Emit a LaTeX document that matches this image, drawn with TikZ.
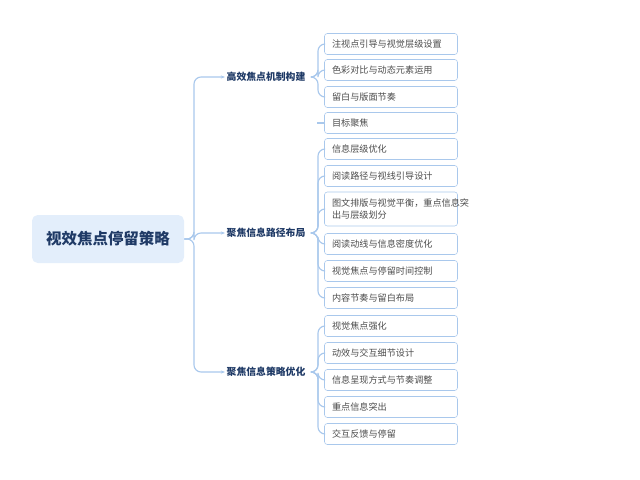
\documentclass[tikz,border=0pt]{standalone}
\usepackage{fontspec}
\newfontfamily\cjk{Noto Sans CJK SC}
\usetikzlibrary{arrows.meta}
\definecolor{linkblue}{HTML}{A9C8EC}
\definecolor{rootfill}{HTML}{E3EEFB}
\definecolor{navy}{HTML}{1F3A66}
\tikzset{
  root/.style={fill=rootfill, rounded corners=4pt, minimum width=152*0.025cm,
    minimum height=48*0.025cm, font=\cjk\bfseries\fontsize{11}{13}\selectfont, text=navy},
  branch/.style={anchor=west, font=\cjk\bfseries\fontsize{7}{9}\selectfont, text=navy, inner sep=1pt},
  leaf/.style={draw=linkblue, rounded corners=2pt, minimum width=133*0.025cm, minimum height=21*0.025cm,
    text width=118*0.025cm, align=left, font=\cjk\fontsize{6.5}{8.5}\selectfont, text=black!70, inner sep=2pt},
  link/.style={draw=linkblue, thick, rounded corners=5pt},
}
\begin{document}
\begin{tikzpicture}[x=0.025cm, y=-0.025cm]
    \useasboundingbox (0,0) rectangle (640,480);
    % root
    \node[root] (root) at (108,239) {视效焦点停留策略};

    % branches
    \node[branch] (b1) at (225,77) {高效焦点机制构建};
    \node[branch] (b2) at (225,233) {聚焦信息路径布局};
    \node[branch] (b3) at (225,372) {聚焦信息策略优化};
    \foreach \b in {b1,b2,b3}
        \draw[link, -{Stealth[length=3pt]}] (root.east) -- (194,239) |- (\b.west);

    % leaves
    \foreach \n/\y/\t in {l1/44/注视点引导与视觉层级设置, l2/70/色彩对比与动态元素运用, l3/97/留白与版面节奏,
        l4/123/目标聚焦, l5/149/信息层级优化, l6/176/阅读路径与视线引导设计,
        l8/244/阅读动线与信息密度优化, l9/271/视觉焦点与停留时间控制, l10/298/内容节奏与留白布局,
        l11/326/视觉焦点强化, l12/353/动效与交互细节设计, l13/380/信息呈现方式与节奏调整,
        l14/407/重点信息突出, l15/434/交互反馈与停留}
        \node[leaf] (\n) at (391,\y) {\t};
    \node[leaf, minimum height=34*0.025cm] (l7) at (391,209) {图文排版与视觉平衡，重点信息突\\出与层级划分};

    % brackets
    \foreach \l in {l1,l2,l3}
        \draw[link] (b1.east) ++(6,0) -- (318,77) |- (\l.west);
    \foreach \l in {l5,l6,l7,l8,l9,l10}
        \draw[link] (b2.east) ++(6,0) -- (318,233) |- (\l.west);
    \foreach \l in {l11,l12,l13,l14,l15}
        \draw[link] (b3.east) ++(6,0) -- (318,372) |- (\l.west);
    \coordinate (s4) at (317,123);
    \draw[link] (s4) -- (l4.west);
\end{tikzpicture}
\end{document}
